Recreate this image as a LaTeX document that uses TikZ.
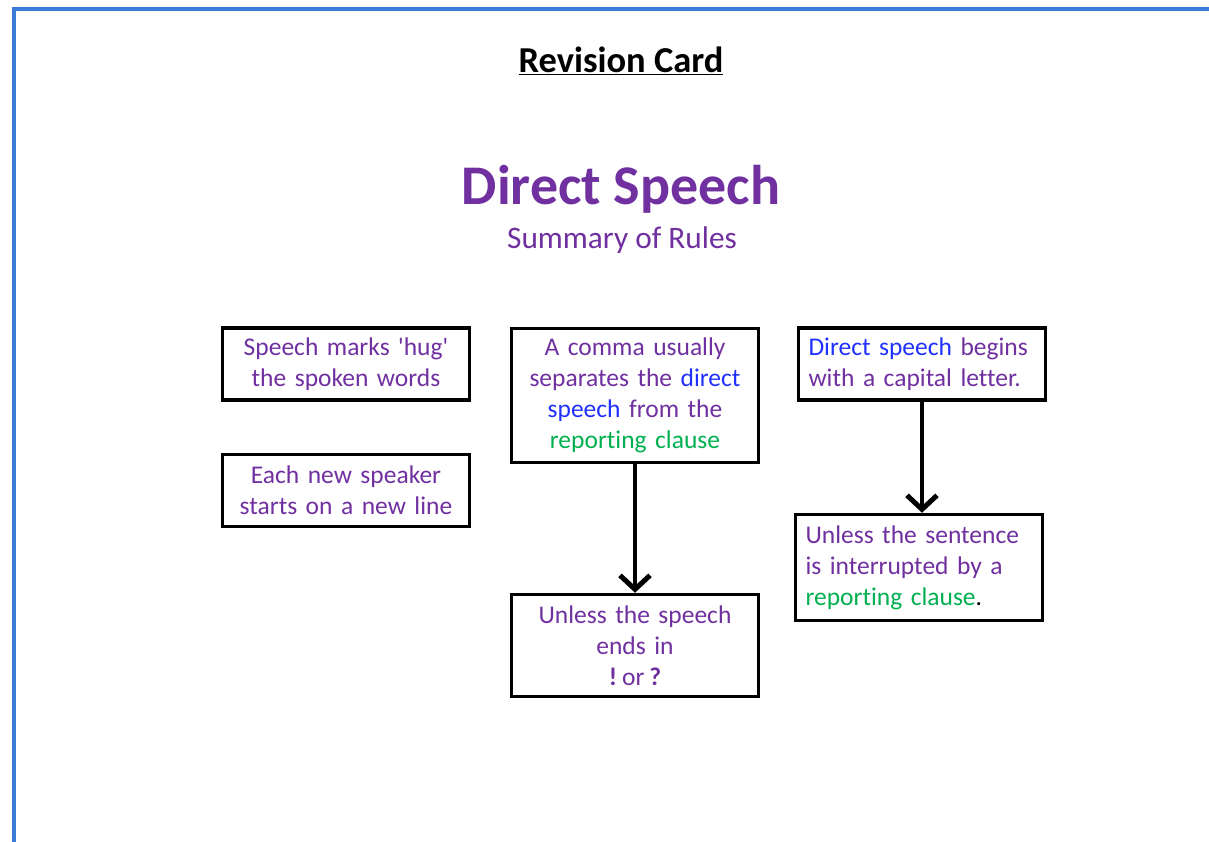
\documentclass[tikz,border=0pt]{standalone}
\usepackage{fontspec}
\setmainfont{Carlito}[Ligatures=NoCommon]
\usetikzlibrary{arrows.meta}
\definecolor{pur}{HTML}{7030A0}
\definecolor{blu}{HTML}{1F30FF}
\definecolor{grn}{HTML}{00B050}
\definecolor{framecol}{HTML}{3A7BD5}
\newcommand{\ds}[1]{\textcolor{blu}{#1}}
\newcommand{\rc}[1]{\textcolor{grn}{#1}}
\tikzset{
  card/.style={draw=black, line width=3.5pt, fill=white, text width=227pt, inner xsep=10pt, inner ysep=0pt,
    font=\fontsize{25.5}{31}\selectfont, text=pur},
  cardc/.style={card, align=center},
  cardl/.style={card, align=left},
  flow/.style={line width=4pt, -{Straight Barb[length=14pt,width=30pt,line width=5pt]}},
}
\begin{document}
\begin{tikzpicture}[x=1pt,y=-1pt]
\useasboundingbox (0,0) rectangle (1209,841);
\fill[white] (0,0) rectangle (1209,841);
\draw[framecol, line width=4pt] (14,860) -- (14,9) -- (1230,9);

\node (rev) at (621,61) {\fontsize{36.5}{42}\selectfont\bfseries\underline{Revision Card}};
\node[text=pur] (ttl) at (621,189) {\fontsize{56}{62}\selectfont\bfseries Direct Speech};
\node[text=pur] (sub) at (622,240) {\fontsize{31.3}{36}\selectfont Summary of Rules};

\node[cardc, minimum height=72pt] (b1) at (346,364) {Speech marks \textquotesingle hug\textquotesingle\\the spoken words};
\node[cardc, minimum height=72pt] (b2) at (346,490.5) {Each new speaker\\starts on a new line};
\node[cardc, minimum height=134pt] (b3) at (635,395.5) {A comma usually\\separates the \ds{direct}\\\ds{speech} from the\\\rc{reporting clause}};
\node[cardl, minimum height=72pt] (b4) at (922,364) {\ds{Direct speech} begins\\with a capital letter.};
\node[cardl, minimum height=106pt] (b5) at (919,567.5) {Unless the sentence\\is interrupted by a\\\rc{reporting clause}\textcolor{black}{.}};
\node[cardc, minimum height=102pt] (b6) at (635,645.5) {Unless the speech\\ends in\\\textbf{!}\hspace{5pt}or\hspace{5pt}\textbf{?}};

\draw[flow] (b3.south) -- (b6.north);
\draw[flow] (b4.south) -- (b4.south |- b5.north);
\end{tikzpicture}
\end{document}
